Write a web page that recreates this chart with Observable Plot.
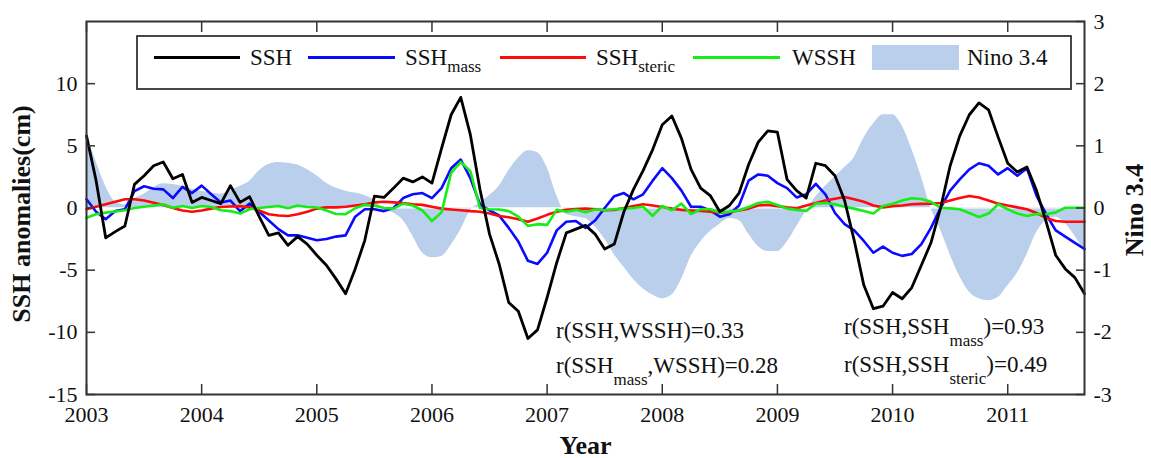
<!DOCTYPE html>
<html>
<head>
<meta charset="utf-8">
<script src="https://cdn.jsdelivr.net/npm/d3@7"></script>
<script src="https://cdn.jsdelivr.net/npm/@observablehq/plot@0.6"></script>
<style>
  html, body { margin: 0; padding: 0; background: #fff; }
  #chart { width: 1151px; height: 458px; }
</style>
</head>
<body>
<div id="chart"></div>
<script>
// ---- data (monthly, starting January 2003) ----
const startYear = 2003;
const ssh = [
  5.8, 2.2, -2.4, -1.9, -1.45, 1.9, 2.6, 3.4, 3.7, 2.35,
  2.7, 0.45, 0.85, 0.6, 0.35, 1.8, 0.45, 0.9, -0.7, -2.2,
  -2.0, -3.0, -2.3, -2.9, -3.8, -4.6, -5.7, -6.9, -4.9, -2.6,
  0.95, 0.85, 1.6, 2.4, 2.1, 2.5, 2.0, 4.8, 7.5, 8.9,
  5.9, 1.5, -2.1, -4.5, -7.6, -8.3, -10.5, -9.8, -7.2, -4.4,
  -2.0, -1.7, -1.4, -2.1, -3.3, -2.9, -0.3, 1.5, 3.0, 4.7,
  6.7, 7.4, 5.6, 3.1, 1.6, 1.0, -0.3, 0.2, 1.2, 3.5,
  5.3, 6.2, 6.1, 2.3, 1.4, 0.8, 3.6, 3.4, 2.6, 0.6,
  -2.6, -6.2, -8.1, -7.9, -6.8, -7.3, -6.4, -4.6, -2.8, 0.0,
  3.4, 5.8, 7.5, 8.45, 7.9, 5.7, 3.6, 2.9, 3.3, 1.4,
  -1.1, -3.8, -4.9, -5.6, -6.9
];
const sshMass = [
  0.7, -0.3, -0.9, -0.25, -0.1, 1.35, 1.75, 1.55, 1.5, 0.8,
  1.7, 1.2, 1.8, 1.1, 0.45, 0.6, -0.25, 0.35, -0.3, -1.0,
  -1.7, -2.2, -2.2, -2.4, -2.6, -2.5, -2.3, -2.2, -0.7, -0.1,
  -0.1, -0.25, 0.0, 0.8, 1.1, 1.2, 0.8, 1.6, 3.2, 3.9,
  2.4, 0.3, -0.2, -0.6, -1.6, -2.7, -4.25, -4.5, -3.6, -1.8,
  -1.1, -1.05, -1.6, -1.0, 0.0, 0.95, 1.2, 0.7, 1.1, 2.2,
  3.2, 2.4, 1.4, 0.1, 0.1, -0.2, -0.7, -0.5, 0.2, 2.2,
  2.7, 2.6, 2.0, 1.6, 0.85, 1.1, 1.95, 1.1, -0.4, -1.3,
  -1.8, -2.65, -3.6, -3.1, -3.6, -3.85, -3.7, -2.9, -1.6, 0.0,
  1.4, 2.3, 3.1, 3.6, 3.4, 2.7, 3.2, 2.6, 3.2, 1.0,
  -0.5, -1.8, -2.3, -2.8, -3.3
];
const sshSteric = [
  -0.1, 0.1, 0.3, 0.5, 0.7, 0.7, 0.6, 0.43, 0.25, 0.0,
  -0.2, -0.3, -0.2, -0.05, 0.08, 0.12, 0.15, 0.05, -0.2, -0.5,
  -0.6, -0.64, -0.5, -0.3, -0.05, 0.05, 0.05, 0.1, 0.2, 0.3,
  0.45, 0.5, 0.45, 0.4, 0.3, 0.25, 0.1, -0.05, -0.12, -0.18,
  -0.25, -0.3, -0.45, -0.65, -0.75, -0.9, -1.1, -0.85, -0.55, -0.3,
  -0.15, -0.08, -0.05, -0.1, -0.18, -0.15, 0.0, 0.15, 0.3, 0.2,
  0.08, -0.05, -0.15, -0.2, -0.24, -0.3, -0.37, -0.32, -0.2, -0.05,
  0.2, 0.25, 0.15, 0.05, -0.02, 0.2, 0.4, 0.6, 0.75, 0.88,
  0.7, 0.5, 0.2, 0.05, 0.15, 0.2, 0.3, 0.33, 0.35, 0.4,
  0.6, 0.8, 0.96, 0.85, 0.6, 0.35, 0.2, 0.05, -0.1, -0.4,
  -0.8, -1.05, -1.1, -1.1, -1.1
];
const wssh = [
  -0.78, -0.5, -0.37, -0.28, -0.18, 0.0, 0.1, 0.2, 0.3, 0.02,
  0.16, 0.0, 0.16, 0.08, -0.18, -0.25, -0.45, -0.1, 0.0, 0.08,
  0.16, -0.02, 0.2, 0.08, 0.04, -0.2, -0.48, -0.5, -0.02, 0.25,
  0.2, 0.0, -0.05, 0.35, 0.2, -0.2, -1.05, -0.35, 2.83, 3.7,
  2.97, 0.0, -0.1, -0.12, -0.25, -0.7, -1.44, -1.3, -1.36, -0.15,
  -0.3, -0.15, -0.35, -0.12, -0.18, -0.1, -0.05, 0.0, 0.1, -0.64,
  0.16, -0.18, 0.35, -0.5, -0.1, -0.1, -0.37, -0.3, -0.18, 0.08,
  0.4, 0.5, 0.24, -0.05, -0.15, -0.24, 0.35, 0.4, 0.3, 0.1,
  -0.05, -0.24, -0.45, 0.16, 0.35, 0.6, 0.78, 0.72, 0.5, 0.02,
  -0.03, -0.1, -0.4, -0.72, -0.45, 0.3, -0.1, -0.45, -0.65, -0.48,
  -0.5, -0.35, 0.02, 0.02, 0.02
];
const nino34 = [
  1.18, 0.75, 0.35, 0.1, 0.05, 0.15, 0.22, 0.33, 0.39, 0.38,
  0.35, 0.3, 0.27, 0.24, 0.22, 0.28, 0.35, 0.43, 0.6, 0.7,
  0.73, 0.72, 0.69, 0.62, 0.52, 0.4, 0.32, 0.27, 0.24, 0.2,
  0.12, -0.02, -0.08, -0.2, -0.45, -0.72, -0.8, -0.78, -0.6, -0.35,
  -0.05, 0.08, 0.2, 0.35, 0.6, 0.8, 0.92, 0.89, 0.65, 0.2,
  -0.1, -0.14, -0.17, -0.3, -0.5, -0.75, -0.95, -1.15, -1.3, -1.4,
  -1.46, -1.4, -1.15, -0.78, -0.55, -0.38, -0.26, -0.17, -0.2, -0.42,
  -0.62, -0.7, -0.7, -0.55, -0.3, -0.05, 0.18, 0.35, 0.5, 0.65,
  0.81, 1.12, 1.35, 1.5, 1.5, 1.32, 0.95, 0.5, 0.0, -0.35,
  -0.75, -1.1, -1.35, -1.46, -1.49, -1.44, -1.25, -1.05, -0.75, -0.4,
  -0.2, -0.15, -0.25, -0.45, -0.7
];
const yearTicks = [2003, 2004, 2005, 2006, 2007, 2008, 2009, 2010, 2011];
const leftTicks = [-15, -10, -5, 0, 5, 10];
const rightTicks = [-3, -2, -1, 0, 1, 2, 3];
const ninoScale = 5; // 1 unit of Nino 3.4 on the right axis = 5 cm on the left axis

const seriesNames = ["SSH", "SSH", "SSH", "WSSH", "Nino 3.4"];
const seriesSubs = [null, "mass", "steric", null, null];
const seriesColors = ["#000000", "#0a0aff", "#ff0a0a", "#15ee15", "#bacfec"];
const annotations = [
  [["r(SSH,WSSH)=0.33", false]],
  [["r(SSH", false], ["mass", true], [",WSSH)=0.28", false]],
  [["r(SSH,SSH", false], ["mass", true], [")=0.93", false]],
  [["r(SSH,SSH", false], ["steric", true], [")=0.49", false]]
];

// ---- table ----
const rows = ssh.map((v, i) => ({
  t: startYear + i / 12,
  ssh: v,
  mass: sshMass[i],
  steric: sshSteric[i],
  wssh: wssh[i],
  nino: nino34[i]
}));

const FONT = '"Liberation Serif", "Times New Roman", Times, serif';
const INK = "#111";
const AX = "#333";

const plot = Plot.plot({
  width: 1151,
  height: 458,
  marginLeft: 86,
  marginRight: 67,
  marginTop: 21,
  marginBottom: 64,
  style: { fontFamily: FONT, fontSize: "22px", color: INK, background: "white" },
  x: { type: "linear", domain: [startYear, startYear + (ssh.length - 1) / 12] },
  y: { domain: [-15, 15] },
  marks: [
    Plot.areaY(rows, { x: "t", y: d => d.nino * ninoScale, fill: seriesColors[4], curve: "monotone-x" }),
    Plot.ruleY([0], { stroke: "white", strokeWidth: 1.2 }),
    Plot.lineY(rows, { x: "t", y: "mass", stroke: seriesColors[1], strokeWidth: 2.6 }),
    Plot.lineY(rows, { x: "t", y: "steric", stroke: seriesColors[2], strokeWidth: 2.6 }),
    Plot.lineY(rows, { x: "t", y: "wssh", stroke: seriesColors[3], strokeWidth: 2.6 }),
    Plot.lineY(rows, { x: "t", y: "ssh", stroke: seriesColors[0], strokeWidth: 2.8 }),
    Plot.frame({ stroke: AX, strokeWidth: 2 }),
    Plot.axisX(yearTicks, { anchor: "bottom", tickSize: -10, tickPadding: 22, stroke: AX, strokeWidth: 1.5, tickFormat: d => String(d), label: null, fill: INK }),
    Plot.axisX(yearTicks, { anchor: "top", tickSize: -10, stroke: AX, strokeWidth: 1.5, tickFormat: () => "", label: null }),
    Plot.axisY(leftTicks, { anchor: "left", tickSize: -9, tickPadding: 18, stroke: AX, strokeWidth: 1.5, tickFormat: d => String(d), label: null, fill: INK }),
    Plot.axisY(rightTicks.map(d => d * ninoScale), { anchor: "right", tickSize: -9, tickPadding: 18, stroke: AX, strokeWidth: 1.5, tickFormat: d => String(d / ninoScale), label: null, fill: INK }),
    Plot.text(["SSH anomalies(cm)"], { frameAnchor: "left", textAnchor: "middle", dx: -65, dy: 6, rotate: -90, fontSize: 26, fontWeight: "bold", fill: INK }),
    Plot.text(["Nino 3.4"], { frameAnchor: "right", textAnchor: "middle", dx: 50, dy: 2, rotate: -90, fontSize: 26, fontWeight: "bold", fill: INK }),
    Plot.text(["Year"], { frameAnchor: "bottom", textAnchor: "middle", dy: 59, lineAnchor: "bottom", fontSize: 26, fontWeight: "bold", fill: INK })
  ]
});
document.getElementById("chart").appendChild(plot);

// ---- rich text helper (subscripts) ----
function richText(g, x, y, parts, size, subSize, shift) {
  const t = g.append("text").attr("x", x).attr("y", y)
    .attr("text-anchor", "start")
    .attr("font-family", FONT).attr("font-size", size).attr("fill", INK);
  let cur = 0;
  parts.forEach(([str, sub]) => {
    const target = sub ? shift : 0;
    t.append("tspan").attr("dy", target - cur).attr("font-size", sub ? subSize : size).text(str);
    cur = target;
  });
  return t;
}

const svg = d3.select(plot);

// ---- legend ----
const leg = svg.append("g").attr("text-anchor", "start");
leg.append("rect").attr("x", 137).attr("y", 36).attr("width", 934).attr("height", 53)
  .attr("fill", "white").attr("stroke", AX).attr("stroke-width", 1.8);
const lineX = [[154, 240], [308, 395], [500, 586], [693, 780]];
const textX = [250, 405, 596, 792, 967];
for (let i = 0; i < 4; i++) {
  leg.append("line").attr("x1", lineX[i][0]).attr("x2", lineX[i][1]).attr("y1", 57.5).attr("y2", 57.5)
    .attr("stroke", seriesColors[i]).attr("stroke-width", 3);
}
leg.append("rect").attr("x", 872).attr("y", 45).attr("width", 87).attr("height", 25).attr("fill", seriesColors[4]);
seriesNames.forEach((name, i) => {
  const parts = [[name, false]];
  if (seriesSubs[i]) parts.push([seriesSubs[i], true]);
  richText(leg, textX[i], 64.5, parts, 23, 17, 7.5);
});

// ---- correlation annotations ----
const ann = svg.append("g").attr("text-anchor", "start");
const annPos = [[556, 338], [556, 372.5], [844, 333.5], [844, 372]];
annotations.forEach((parts, i) => richText(ann, annPos[i][0], annPos[i][1], parts, 23, 17, 12));
</script>
</body>
</html>
